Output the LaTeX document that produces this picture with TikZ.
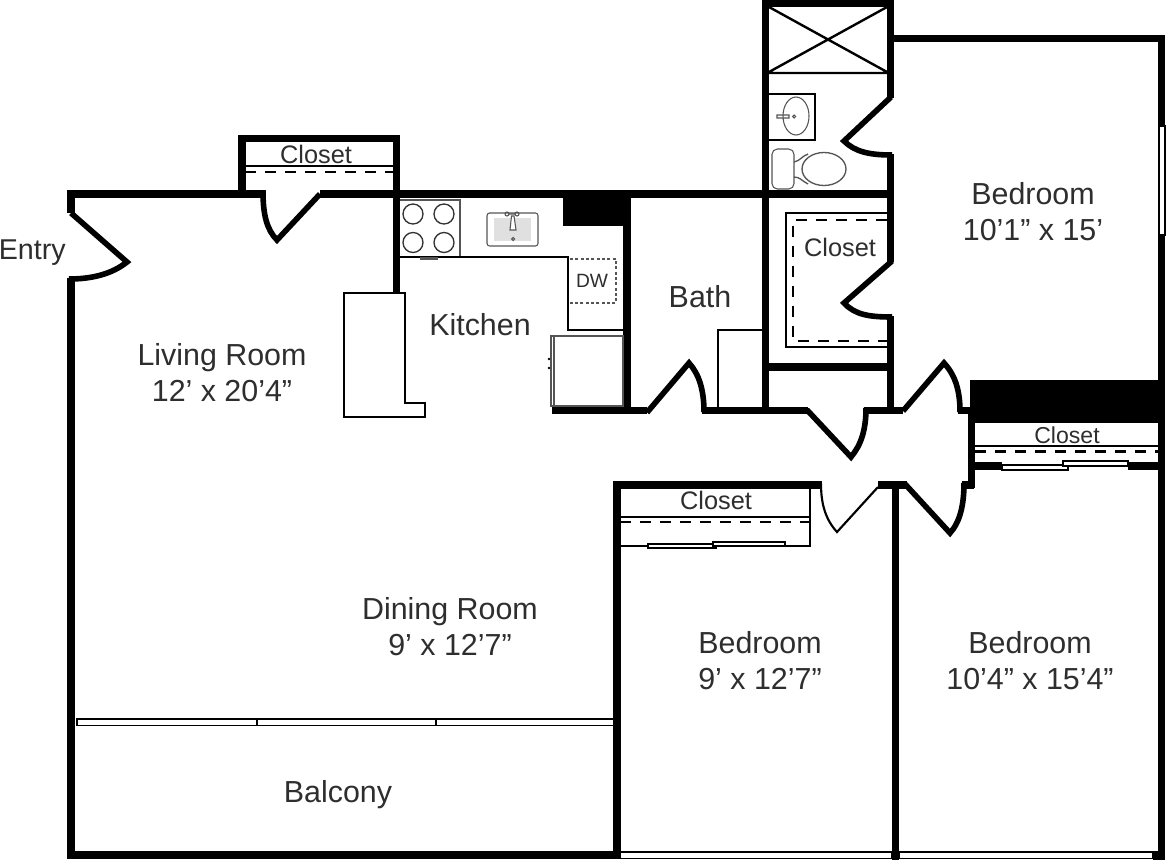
\documentclass[tikz,border=0pt]{standalone}
\usepackage{fontspec}
\setmainfont{Liberation Sans}
\definecolor{inkgray}{HTML}{2E2E2E}
\definecolor{fixgray}{HTML}{555555}
\tikzset{
wall/.style={line width=5.4pt,line cap=butt,miter limit=10},
door/.style={line width=4.2pt,line cap=butt,miter limit=20},
thindoor/.style={line width=1.6pt,miter limit=20},
thinwall/.style={line width=2pt},
hatch/.style={line width=1.7pt,dash pattern=on 8.5pt off 6.5pt},
glass/.style={draw=black,fill=white,line width=1.4pt},
fixture/.style={draw=fixgray,line width=.8pt},
roomlabel/.style={text=inkgray,inner sep=0pt,align=center,font=\fontsize{22.8}{27}\selectfont},
closetlabel/.style={text=inkgray,inner sep=0pt,font=\fontsize{19}{22}\selectfont},
}
\begin{document}
\begin{tikzpicture}[x=.75pt,y=-.75pt]
\useasboundingbox (0,0) rectangle (1166,860);
\fill[white] (0,0) rectangle (1166,860);
% outer walls, left part
\draw[wall] (71,213) -- (71,194) -- (266,194);
\draw[wall] (71,278) -- (71,855) -- (620,855);
\draw[wall] (242,194) -- (242,138.5) -- (396.5,138.5) -- (396.5,293);
\draw[wall] (320,194) -- (893,194);
\draw[door] (71,213) -- (127,262) .. controls (112,274) and (92,279) .. (69,279);
\draw[door] (263,192) .. controls (263,215) and (267,230) .. (277,240) -- (320,194);
\draw[thinwall] (243,166) -- (394,166);
\draw[hatch] (245,172) -- (394,172);
% kitchen
\fill[black] (563,194) rectangle (631,226);
\draw[wall] (627,194) -- (627,414);
\draw[wall] (552,410.5) -- (647,410.5);
\draw[thinwall] (400,257) -- (568,257) -- (568,330) -- (624,330);
\draw[fixture,line width=1.2pt] (400,200) -- (460,200) -- (460,256);
\foreach \px/\py in {413/214,444/214,413/242.5,444/242.5}
\draw[black!80,line width=1pt] (\px,\py) circle[radius=10];
\fill[fixgray] (420,257) rectangle (438,260);
\draw[fixture,rounded corners=2pt] (487,213) rectangle (538,246);
\fill[black!12] (494,218) rectangle (531,241);
\draw[fixture] (507,214) circle[radius=2] (517,214) circle[radius=2] (509,214) -- (515,214);
\draw[fixture,fill=white] (511.5,216) -- (514,216) -- (516,230) -- (510,230) -- cycle;
\draw[fixture] (513,239) circle[radius=1.5];
\draw[fixgray,line width=1pt,dash pattern=on 2.2pt off 1.8pt] (570,259) -- (616,259) -- (616,303) -- (570,303);
\draw[fixture,line width=1.1pt] (551,336) rectangle (623,406) (554,336) -- (554,406);
\fill[black] (549,359) circle[radius=1.3] (549,368) circle[radius=1.3];
\draw[line width=2pt] (344,293) -- (405,293) -- (405,403) -- (425,403) -- (425,417) -- (344,417) -- cycle;
% bath
\draw[door] (647,412.5) -- (689,363) .. controls (699,374) and (704,390) .. (704,412);
\draw[wall] (702,410.5) -- (808,410.5);
\draw[thinwall] (718,410) -- (718,330) -- (763,330);
% shaft and toilet room
\draw[wall] (765.5,410) -- (765.5,3.5) -- (890.5,3.5) -- (890.5,98);
\draw[line width=1.8pt] (769,7) -- (887,72) (887,7) -- (769,72) (769,73) -- (887,73);
\draw[wall] (890,38.5) -- (1161.5,38.5) -- (1161.5,126);
\draw[door] (891,97) -- (844,141) .. controls (855,152) and (870,155) .. (892,155);
\draw[wall] (890.5,154) -- (890.5,262);
\draw[thinwall] (769,94) -- (815,94) -- (815,140) -- (769,140);
\draw[fixture] (796,116) ellipse[x radius=13,y radius=19];
\draw[fixture] (777,115) rectangle (789,118) (794,116.5) circle[radius=1.5];
\draw[fixture,rounded corners=4pt] (772,149) rectangle (794,189);
\draw[fixture,line width=1pt] (824,169) ellipse[x radius=22,y radius=16.5];
\draw[fixture,line width=1pt] (794,162) .. controls (800,161) and (802,156) .. (808,154) (794,177) .. controls (800,177) and (802,181) .. (808,184);
% closet in the middle
\draw[line width=1.9pt] (887,213) -- (786,213) -- (786,347) -- (887,347);
\draw[hatch] (887,220) -- (793,220) -- (793,341) -- (887,341);
\draw[door] (892,261) -- (844,303) .. controls (855,315) and (870,317) .. (892,317);
\draw[wall] (890.5,316) -- (890.5,413);
\draw[wall] (769,367) -- (888,367);
% hall doors
\draw[door] (806,411) -- (808,411) -- (851,457) .. controls (861,445) and (866,430) .. (866,408);
\draw[wall] (864,410.5) -- (903,410.5);
\draw[door] (903,411) -- (944,363) .. controls (956,376) and (960,392) .. (960,412);
\draw[wall] (958,410.5) -- (972,410.5);
% right closet
\fill[black] (970,380) rectangle (1165,423);
\draw[wall] (971.5,410) -- (971.5,488);
\draw[thinwall] (975,446) -- (1158,446);
\draw[hatch] (975,451.5) -- (1158,451.5);
\draw[wall] (975,466) -- (1002,466) (1128,466) -- (1160,466);
\draw[glass] (1002,465) rectangle (1068,470);
\draw[glass] (1063,461) rectangle (1128,466);
\draw[wall] (1161.5,232) -- (1161.5,860);
\draw[glass] (1159,126) rectangle (1165,235);
% lower bedrooms
\draw[wall] (617,855) -- (617,485) -- (822,485);
\draw[thindoor] (821,484) .. controls (821,505) and (826,520) .. (837,532) -- (878,487);
\draw[wall] (878,485) -- (907,485);
\draw[wall] (895.5,485) -- (895.5,860);
\draw[door] (905,484) -- (950,533) .. controls (960,522) and (964,505) .. (964,483);
\draw[wall] (962,485) -- (974,485);
\draw[thinwall] (620,517) -- (810,517) (810,486) -- (810,546) -- (785,546);
\draw[hatch] (620,522) -- (810,522);
\draw[thinwall] (620,546) -- (648,546);
\draw[glass] (648,544) rectangle (716,548);
\draw[glass] (713,542) rectangle (785,546);
% balcony and windows
\draw[glass] (77,719) rectangle (257,725.5);
\draw[glass] (257,719) rectangle (436,725.5);
\draw[glass] (436,719) rectangle (613.5,725.5);
\draw[glass] (620,852) rectangle (892,858.5);
\draw[glass] (899,852) rectangle (1153,858.5);
\fill[black] (1153,851) rectangle (1165,860);
% labels
\node[roomlabel,anchor=east,font=\fontsize{21.5}{27}\selectfont] (entry) at (66,253) {Entry};
\node[closetlabel] (closetlr) at (316,154) {Closet};
\node[closetlabel] (closetmid) at (840,247) {Closet};
\node[closetlabel] (closetbr) at (716,500) {Closet};
\node[closetlabel,font=\fontsize{17.3}{20}\selectfont] (closetr) at (1067,435) {Closet};
\node[text=inkgray,font=\fontsize{14.4}{16}\selectfont,inner sep=0pt] (dw) at (592,281) {DW};
\node[roomlabel] (kitchen) at (480,325) {Kitchen};
\node[roomlabel] (bath) at (700,297) {Bath};
\node[roomlabel] (living) at (222,373) {Living Room\\12’ x 20’4”};
\node[roomlabel] (dining) at (450,627) {Dining Room\\9’ x 12’7”};
\node[roomlabel] (bedtop) at (1033,212) {Bedroom\\10’1” x 15’};
\node[roomlabel] (bedleft) at (760,661) {Bedroom\\9’ x 12’7”};
\node[roomlabel] (bedright) at (1030,661) {Bedroom\\10’4” x 15’4”};
\node[roomlabel] (balcony) at (338,795) {Balcony};
\end{tikzpicture}
\end{document}
